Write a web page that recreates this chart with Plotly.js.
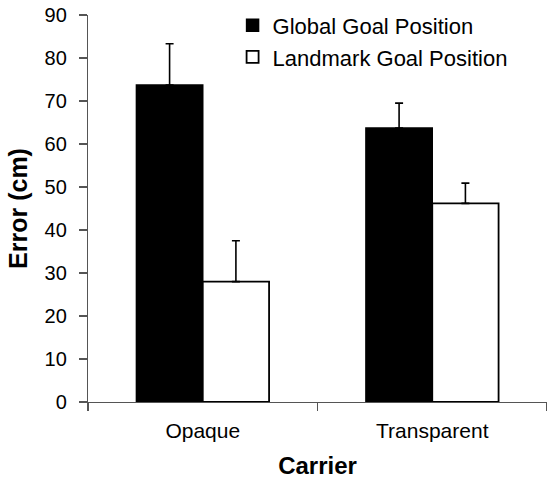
<!DOCTYPE html>
<html>
<head>
<meta charset="utf-8">
<script src="https://cdn.plot.ly/plotly-3.0.1.min.js"></script>
<style>html,body{margin:0;padding:0;background:#fff;}#chart{width:547px;height:488px;}</style>
</head>
<body>
<div id="chart"></div>
<script>
const categories = ["Opaque", "Transparent"];
const seriesNames = ["Global Goal Position", "Landmark Goal Position"];
const globalValues = [73.7, 63.7];
const globalErrors = [9.6, 5.8];
const landmarkValues = [28.0, 46.2];
const landmarkErrors = [9.5, 4.7];
const yTicks = [0, 10, 20, 30, 40, 50, 60, 70, 80, 90];

const FONT = "Liberation Sans";

const traces = [
  {
    type: "bar", name: seriesNames[0], x: categories, y: globalValues,
    marker: {color: "#000", line: {color: "#000", width: 1.5}},
    error_y: {type: "data", symmetric: false, array: globalErrors, arrayminus: [0, 0],
              color: "#000", thickness: 1.6, width: 4}
  },
  {
    type: "bar", name: seriesNames[1], x: categories, y: landmarkValues,
    marker: {color: "#fff", line: {color: "#000", width: 1.8}},
    error_y: {type: "data", symmetric: false, array: landmarkErrors, arrayminus: [0, 0],
              color: "#000", thickness: 1.6, width: 4}
  }
];

const layout = {
  width: 547, height: 488,
  margin: {l: 88, r: 0, t: 15, b: 86},
  paper_bgcolor: "#fff", plot_bgcolor: "#fff",
  barmode: "group", bargap: 0.422, bargroupgap: 0,
  font: {family: FONT, color: "#000"},
  showlegend: true,
  legend: {x: 0.315, xanchor: "left", y: 1.027, yanchor: "top",
           font: {family: FONT, size: 22, color: "#000"},
           bgcolor: "rgba(0,0,0,0)", itemwidth: 30, tracegroupgap: 0},
  xaxis: {
    type: "category", tickson: "boundaries", ticks: "outside", ticklen: 8, tickwidth: 1.2,
    tickcolor: "#555", showline: true, linecolor: "#555", linewidth: 1.2,
    showgrid: false, zeroline: false, ticklabelstandoff: 10,
    tickfont: {family: FONT, size: 21, color: "#000"},
    title: {text: "<b>Carrier</b>", font: {family: FONT, size: 24, color: "#000"}, standoff: 15}
  },
  yaxis: {
    range: [0, 90], tickvals: yTicks, ticks: "outside", ticklen: 8, tickwidth: 1.2,
    tickcolor: "#555", showline: true, linecolor: "#555", linewidth: 1.2,
    showgrid: false, zeroline: false, ticklabelstandoff: 8,
    tickfont: {family: FONT, size: 20, color: "#000"},
    title: {text: "<b>Error (cm)</b>", font: {family: FONT, size: 25, color: "#000"}, standoff: 9}
  }
};

Plotly.newPlot("chart", traces, layout, {displayModeBar: false, staticPlot: true});
</script>
</body>
</html>
